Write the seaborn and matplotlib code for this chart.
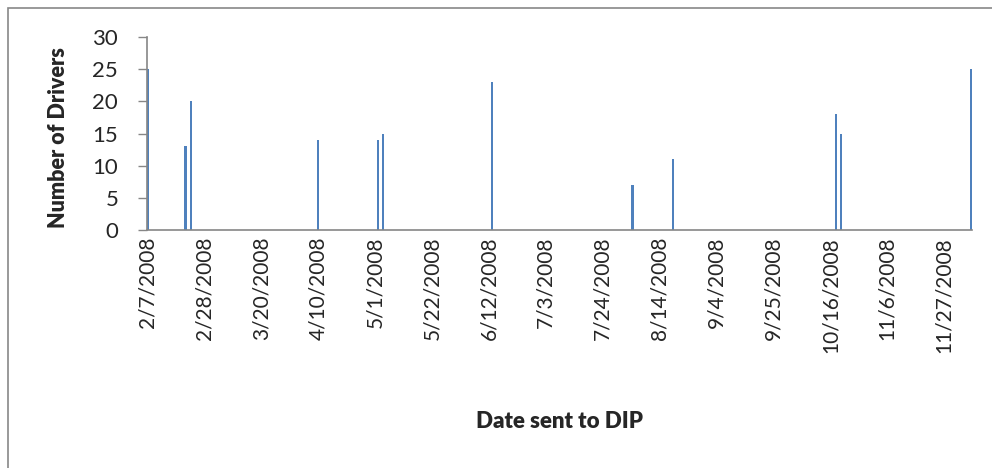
import matplotlib
matplotlib.use("Agg")
import matplotlib.pyplot as plt
import matplotlib.dates as mdates
from matplotlib.patches import Rectangle
import seaborn as sns
import pandas as pd

# data
dates_sent = ["2008-02-07", "2008-02-21", "2008-02-23", "2008-04-10", "2008-05-02",
              "2008-05-04", "2008-06-13", "2008-08-04", "2008-08-19", "2008-10-18",
              "2008-10-20", "2008-12-07"]
drivers = [25, 13, 20, 14, 14, 15, 23, 7, 11, 18, 15, 25]

tick_dates = pd.date_range("2008-02-07", "2008-11-27", freq="21D")
tick_labels = [f"{d.month}/{d.day}/{d.year}" for d in tick_dates]

df = pd.DataFrame({"date": pd.to_datetime(dates_sent), "drivers": drivers})
df["x"] = mdates.date2num(df["date"])

sns.set_style("white")
plt.rcParams["font.family"] = ["Lato", "DejaVu Sans"]

fig = plt.figure(figsize=(9.92, 4.68), dpi=100)
ax = fig.add_axes([146.7 / 992, 1 - 230 / 468, (972 - 146.7) / 992, (230 - 37) / 468])

sns.barplot(data=df, x="x", y="drivers", native_scale=True, width=0.4,
            color="#4F81BD", saturation=1, linewidth=0, ax=ax)

ax.set_xlim(mdates.date2num(pd.Timestamp("2008-02-07")) - 0.3,
            mdates.date2num(pd.Timestamp("2008-12-07")) + 0.3)
ax.set_ylim(0, 30)
ax.set_yticks([0, 5, 10, 15, 20, 25, 30])
ax.set_xticks(mdates.date2num(tick_dates))
ax.set_xticklabels(tick_labels, rotation=90, fontsize=15)
ax.tick_params(axis="y", labelsize=16, direction="out", length=6.5, width=1,
               color="#868686", pad=14, left=True)
ax.tick_params(axis="x", length=0, pad=5)

for s in ["top", "right"]:
    ax.spines[s].set_visible(False)
for s in ["left", "bottom"]:
    ax.spines[s].set_color("#868686")
    ax.spines[s].set_linewidth(1.2)

ax.set_ylabel("Number of Drivers", fontsize=15.5, fontweight="heavy")
ax.yaxis.set_label_coords(-0.094, 0.48)
ax.set_xlabel("Date sent to DIP", fontsize=16, fontweight="heavy")
ax.xaxis.set_label_coords(0.5, -0.94)

# chart-area border (right and bottom cut off in the original)
fig.add_artist(Rectangle((8 / 992, -0.1), 1.2, 1.1 - 8 / 468, transform=fig.transFigure,
                         fill=False, edgecolor="#878787", linewidth=1.2))

fig.savefig("out.png", dpi=100)
